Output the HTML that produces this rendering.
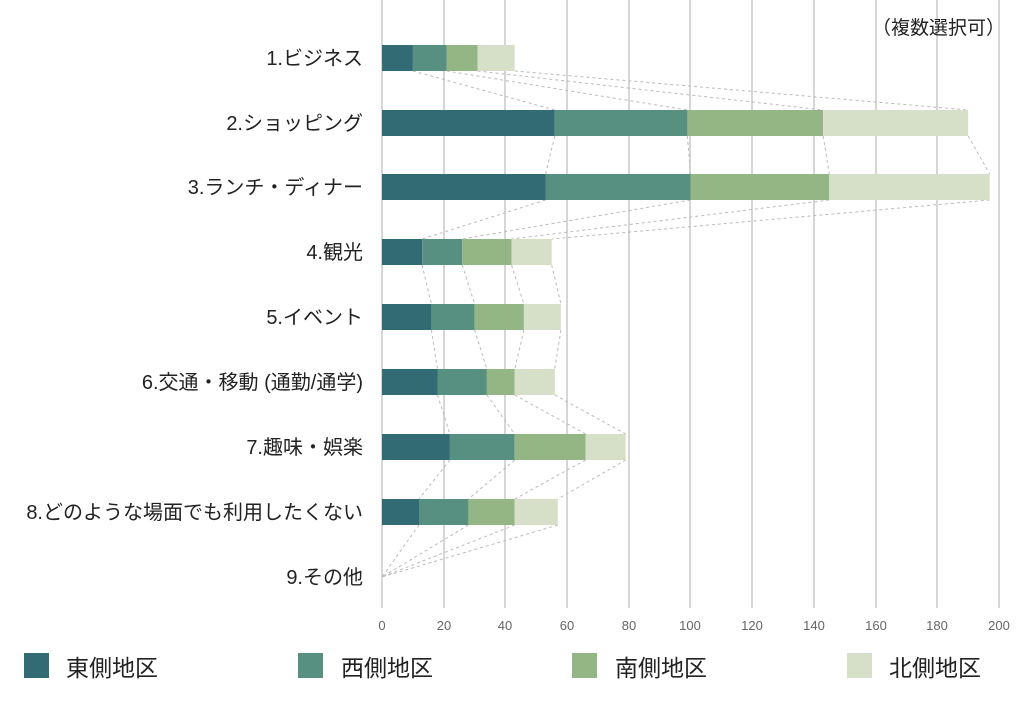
<!DOCTYPE html>
<html><head><meta charset="utf-8"><style>
body{margin:0;background:#fff;}
svg text{font-family:"Liberation Sans","Noto Sans CJK JP",sans-serif;}
</style></head><body>
<svg width="1024" height="702" xmlns="http://www.w3.org/2000/svg">
<g stroke="#c8c8c8" stroke-width="1.5">
<line x1="382" y1="0" x2="382" y2="608"/><line x1="444" y1="0" x2="444" y2="608"/><line x1="505" y1="0" x2="505" y2="608"/><line x1="567" y1="0" x2="567" y2="608"/><line x1="629" y1="0" x2="629" y2="608"/><line x1="690" y1="0" x2="690" y2="608"/><line x1="752" y1="0" x2="752" y2="608"/><line x1="814" y1="0" x2="814" y2="608"/><line x1="876" y1="0" x2="876" y2="608"/><line x1="937" y1="0" x2="937" y2="608"/><line x1="999" y1="0" x2="999" y2="608"/>
</g>
<g fill="#666" font-size="13" text-anchor="middle">
<text x="382" y="630">0</text><text x="444" y="630">20</text><text x="505" y="630">40</text><text x="567" y="630">60</text><text x="629" y="630">80</text><text x="690" y="630">100</text><text x="752" y="630">120</text><text x="814" y="630">140</text><text x="876" y="630">160</text><text x="937" y="630">180</text><text x="999" y="630">200</text>
</g>
<g stroke="#bbb" stroke-width="1" stroke-dasharray="3,3" fill="none">
<line x1="412.9" y1="71" x2="554.8" y2="110"/><line x1="446.8" y1="71" x2="687.4" y2="110"/><line x1="477.6" y1="71" x2="823.2" y2="110"/><line x1="514.7" y1="71" x2="968.2" y2="110"/>
<line x1="554.8" y1="136" x2="545.5" y2="174"/><line x1="687.4" y1="136" x2="690.5" y2="174"/><line x1="823.2" y1="136" x2="829.3" y2="174"/><line x1="968.2" y1="136" x2="989.7" y2="174"/>
<line x1="545.5" y1="200" x2="422.1" y2="239"/><line x1="690.5" y1="200" x2="462.2" y2="239"/><line x1="829.3" y1="200" x2="511.6" y2="239"/><line x1="989.7" y1="200" x2="551.7" y2="239"/>
<line x1="422.1" y1="265" x2="431.4" y2="304"/><line x1="462.2" y1="265" x2="474.6" y2="304"/><line x1="511.6" y1="265" x2="523.9" y2="304"/><line x1="551.7" y1="265" x2="560.9" y2="304"/>
<line x1="431.4" y1="330" x2="437.5" y2="369"/><line x1="474.6" y1="330" x2="486.9" y2="369"/><line x1="523.9" y1="330" x2="514.7" y2="369"/><line x1="560.9" y1="330" x2="554.8" y2="369"/>
<line x1="437.5" y1="395" x2="449.9" y2="434"/><line x1="486.9" y1="395" x2="514.7" y2="434"/><line x1="514.7" y1="395" x2="585.6" y2="434"/><line x1="554.8" y1="395" x2="625.7" y2="434"/>
<line x1="449.9" y1="460" x2="419" y2="499"/><line x1="514.7" y1="460" x2="468.4" y2="499"/><line x1="585.6" y1="460" x2="514.7" y2="499"/><line x1="625.7" y1="460" x2="557.8" y2="499"/>
<line x1="419" y1="525" x2="382" y2="577"/><line x1="468.4" y1="525" x2="382" y2="577"/><line x1="514.7" y1="525" x2="382" y2="577"/><line x1="557.8" y1="525" x2="382" y2="577"/>
</g>
<g>
<rect x="382" y="45" width="30.9" height="26" fill="#336b74"/><rect x="412.9" y="45" width="33.9" height="26" fill="#578f80"/><rect x="446.8" y="45" width="30.8" height="26" fill="#94b584"/><rect x="477.6" y="45" width="37.1" height="26" fill="#d6e0c8"/>
<rect x="382" y="110" width="172.8" height="26" fill="#336b74"/><rect x="554.8" y="110" width="132.6" height="26" fill="#578f80"/><rect x="687.4" y="110" width="135.8" height="26" fill="#94b584"/><rect x="823.2" y="110" width="145" height="26" fill="#d6e0c8"/>
<rect x="382" y="174" width="163.5" height="26" fill="#336b74"/><rect x="545.5" y="174" width="145" height="26" fill="#578f80"/><rect x="690.5" y="174" width="138.8" height="26" fill="#94b584"/><rect x="829.3" y="174" width="160.4" height="26" fill="#d6e0c8"/>
<rect x="382" y="239" width="40.1" height="26" fill="#336b74"/><rect x="422.1" y="239" width="40.1" height="26" fill="#578f80"/><rect x="462.2" y="239" width="49.4" height="26" fill="#94b584"/><rect x="511.6" y="239" width="40.1" height="26" fill="#d6e0c8"/>
<rect x="382" y="304" width="49.4" height="26" fill="#336b74"/><rect x="431.4" y="304" width="43.2" height="26" fill="#578f80"/><rect x="474.6" y="304" width="49.3" height="26" fill="#94b584"/><rect x="523.9" y="304" width="37" height="26" fill="#d6e0c8"/>
<rect x="382" y="369" width="55.5" height="26" fill="#336b74"/><rect x="437.5" y="369" width="49.4" height="26" fill="#578f80"/><rect x="486.9" y="369" width="27.8" height="26" fill="#94b584"/><rect x="514.7" y="369" width="40.1" height="26" fill="#d6e0c8"/>
<rect x="382" y="434" width="67.9" height="26" fill="#336b74"/><rect x="449.9" y="434" width="64.8" height="26" fill="#578f80"/><rect x="514.7" y="434" width="70.9" height="26" fill="#94b584"/><rect x="585.6" y="434" width="40.1" height="26" fill="#d6e0c8"/>
<rect x="382" y="499" width="37" height="26" fill="#336b74"/><rect x="419" y="499" width="49.4" height="26" fill="#578f80"/><rect x="468.4" y="499" width="46.3" height="26" fill="#94b584"/><rect x="514.7" y="499" width="43.1" height="26" fill="#d6e0c8"/>
</g>
<g fill="#222" font-size="20" text-anchor="end">
<text x="363" y="65">1.ビジネス</text>
<text x="363" y="130">2.ショッピング</text>
<text x="363" y="194">3.ランチ・ディナー</text>
<text x="363" y="259">4.観光</text>
<text x="363" y="324">5.イベント</text>
<text x="363" y="389">6.交通・移動 (通勤/通学)</text>
<text x="363" y="454">7.趣味・娯楽</text>
<text x="363" y="519">8.どのような場面でも利用したくない</text>
<text x="363" y="584">9.その他</text>
</g>
<text x="1005" y="34" font-size="19" fill="#222" text-anchor="end">（複数選択可）</text>
<g font-size="23" fill="#222">
<rect x="24" y="653" width="25" height="25" fill="#336b74"/><text x="66" y="676">東側地区</text>
<rect x="298" y="653" width="25" height="25" fill="#578f80"/><text x="341" y="676">西側地区</text>
<rect x="572" y="653" width="25" height="25" fill="#94b584"/><text x="615" y="676">南側地区</text>
<rect x="847" y="653" width="25" height="25" fill="#d6e0c8"/><text x="889" y="676">北側地区</text>
</g>
</svg>
</body></html>
